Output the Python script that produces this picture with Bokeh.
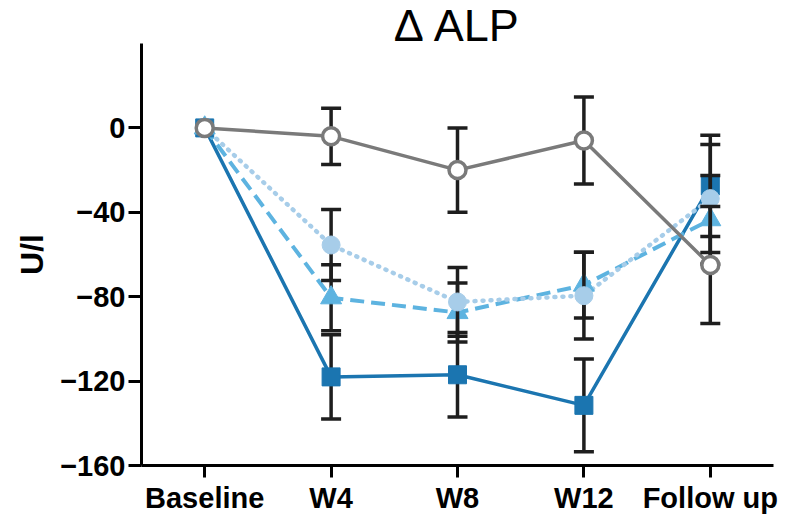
from bokeh.plotting import figure
from bokeh.models import Range1d, FixedTicker
from bokeh.embed import file_html
from bokeh.resources import INLINE

categories = ["Baseline", "W4", "W8", "W12", "Follow up"]
x_pos = [0, 1, 2, 3, 4]

sq_mean = [0, -118, -117, -131.5, -27.5]
sq_err = [0, 20, 20, 22, 24]

tri_mean = [0, -80.5, -87.5, -74.5, -43.5]
tri_err = [0, 15.6, 14, 15.6, 21]

circ_mean = [0, -55.5, -82.5, -79.5, -33.5]
circ_err = [0, 16.8, 16.3, 20.6, 25.6]

gray_mean = [0, -4, -20, -6, -65]
gray_err = [0, 13.3, 20, 20.6, 27.7]

y_ticks = [-160, -120, -80, -40, 0]

FONT = "Liberation Sans"
C_SQ = "#1b75b0"
C_TRI = "#5db3e0"
C_CIRC = "#a7cde9"
C_GRAY = "#7a7a7a"
C_ERR = "#1e1e1e"

p = figure(width=787, height=517, output_backend="svg", toolbar_location=None,
           x_range=Range1d(-0.5, 4.5), y_range=Range1d(-160, 40),
           min_border_left=141, min_border_right=14, min_border_top=43,
           min_border_bottom=52)
p.outline_line_color = None
p.xgrid.visible = False
p.ygrid.visible = False

p.title.text = "\u0394 ALP"
p.title.align = "center"
p.title.text_font = FONT
p.title.text_font_style = "normal"
p.title.text_font_size = "45px"
p.title.text_color = "black"
p.title.standoff = -14

# axes
p.yaxis.ticker = FixedTicker(ticks=y_ticks)
p.yaxis.axis_line_width = 3
p.yaxis.major_tick_line_width = 3
p.yaxis.major_tick_out = 13
p.yaxis.major_tick_in = 0
p.yaxis.minor_tick_line_color = None
p.yaxis.major_label_text_font = FONT
p.yaxis.major_label_text_font_style = "bold"
p.yaxis.major_label_text_font_size = "29px"
p.yaxis.major_label_text_color = "black"
p.yaxis.major_label_standoff = 3
p.yaxis.axis_label = "U/l"
p.yaxis.axis_label_text_font = FONT
p.yaxis.axis_label_text_font_style = "bold"
p.yaxis.axis_label_text_font_size = "32px"
p.yaxis.axis_label_text_color = "black"
p.yaxis.axis_label_standoff = 7

p.xaxis.ticker = FixedTicker(ticks=x_pos)
p.xaxis.major_label_overrides = {i: c for i, c in zip(x_pos, categories)}
p.xaxis.axis_line_width = 3
p.xaxis.major_tick_line_width = 3
p.xaxis.major_tick_out = 12
p.xaxis.major_tick_in = 0
p.xaxis.minor_tick_line_color = None
p.xaxis.major_label_text_font = FONT
p.xaxis.major_label_text_font_style = "bold"
p.xaxis.major_label_text_font_size = "29px"
p.xaxis.major_label_text_color = "black"
p.xaxis.major_label_standoff = 4

# connecting lines
p.line(x_pos, sq_mean, line_color=C_SQ, line_width=3.5)
p.line(x_pos, tri_mean, line_color=C_TRI, line_width=4, line_dash="14 7")
p.line(x_pos, circ_mean, line_color=C_CIRC, line_width=4.5, line_dash="1 7",
       line_cap="round")
p.line(x_pos, gray_mean, line_color=C_GRAY, line_width=3.5)


def errbars(mean, err, marker_fn):
    xs = [x for x, e in zip(x_pos, err) if e > 0]
    lo = [m - e for m, e in zip(mean, err) if e > 0]
    hi = [m + e for m, e in zip(mean, err) if e > 0]
    p.segment(x0=xs, y0=lo, x1=xs, y1=hi, line_color=C_ERR, line_width=3.5)
    p.scatter(xs + xs, lo + hi, marker="dash", size=20, line_color=C_ERR,
              line_width=3.5)
    marker_fn()


errbars(sq_mean, sq_err,
        lambda: p.scatter(x_pos, sq_mean, marker="square", size=18,
                          fill_color=C_SQ, line_color=C_SQ))
errbars(tri_mean, tri_err,
        lambda: p.scatter(x_pos, tri_mean, marker="triangle", size=21,
                          fill_color=C_TRI, line_color=C_TRI))
errbars(circ_mean, circ_err,
        lambda: p.scatter(x_pos, circ_mean, marker="circle", size=18,
                          fill_color=C_CIRC, line_color=C_CIRC))
errbars(gray_mean, gray_err,
        lambda: p.scatter(x_pos, gray_mean, marker="circle", size=17,
                          fill_color="white", line_color=C_GRAY,
                          line_width=3.5))

open("out.html", "w").write(file_html(p, INLINE))
